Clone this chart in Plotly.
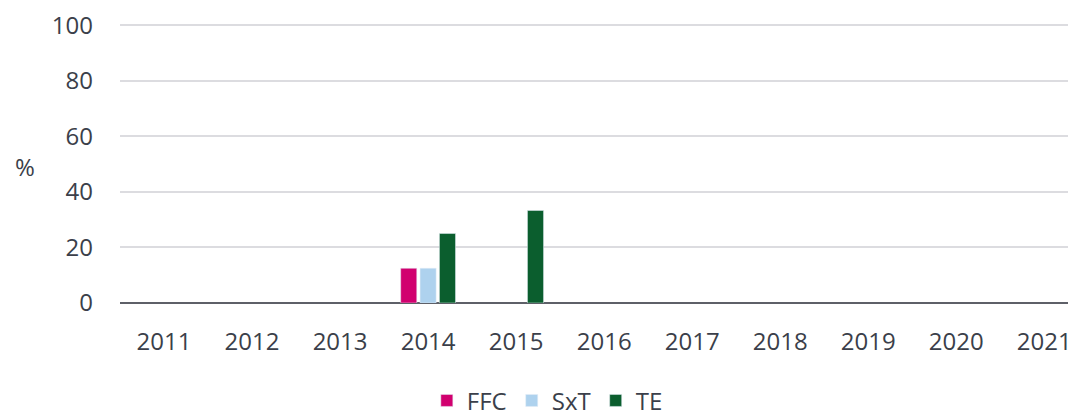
import plotly.graph_objects as go

years = ["2011", "2012", "2013", "2014", "2015", "2016", "2017", "2018", "2019", "2020", "2021"]
ffc = [0, 0, 0, 12.5, 0, 0, 0, 0, 0, 0, 0]
sxt = [0, 0, 0, 12.5, 0, 0, 0, 0, 0, 0, 0]
te = [0, 0, 0, 25, 33.3, 0, 0, 0, 0, 0, 0]
y_ticks = [0, 20, 40, 60, 80, 100]


def hide_zero(vals):
    return [v if v else None for v in vals]


font_family = "Open Sans, Liberation Sans, sans-serif"
text_color = "#3b3f4a"
fs = 24

fig = go.Figure()
fig.add_trace(go.Bar(name="FFC", x=years, y=hide_zero(ffc), marker_color="#d1006f"))
fig.add_trace(go.Bar(name="SxT", x=years, y=hide_zero(sxt), marker_color="#aed2ee"))
fig.add_trace(go.Bar(name="TE", x=years, y=hide_zero(te), marker_color="#0b5e2e"))

fig.update_layout(
    width=1068, height=403,
    margin=dict(l=112, r=0, t=16, b=108, autoexpand=False),
    barmode="group", bargap=0.34, bargroupgap=0.17,
    plot_bgcolor="white", paper_bgcolor="white",
    font=dict(family=font_family, size=fs, color=text_color),
    legend=dict(orientation="h", xref="container", x=0.505, xanchor="center",
                yref="paper", y=-0.27, yanchor="top",
                font=dict(size=fs), traceorder="normal"),
    showlegend=True,
)
fig.update_xaxes(range=[-0.5, 10.36], showgrid=False, showline=False, ticks="",
                 tickfont=dict(size=fs), ticklabelstandoff=22)
fig.update_yaxes(range=[0, 100.4], tickvals=y_ticks, showgrid=True, gridcolor="#dcdce0",
                 gridwidth=2, zeroline=True, zerolinecolor="#5e6068", zerolinewidth=2,
                 ticks="", tickfont=dict(size=fs), ticklabelstandoff=26,
                 ticklabeloverflow="allow", showline=False)
fig.add_annotation(text="%", xref="paper", yref="paper", x=-0.0994, y=0.489,
                   xanchor="center", yanchor="middle", showarrow=False,
                   font=dict(size=fs, color=text_color))
fig.write_html("out.html")
